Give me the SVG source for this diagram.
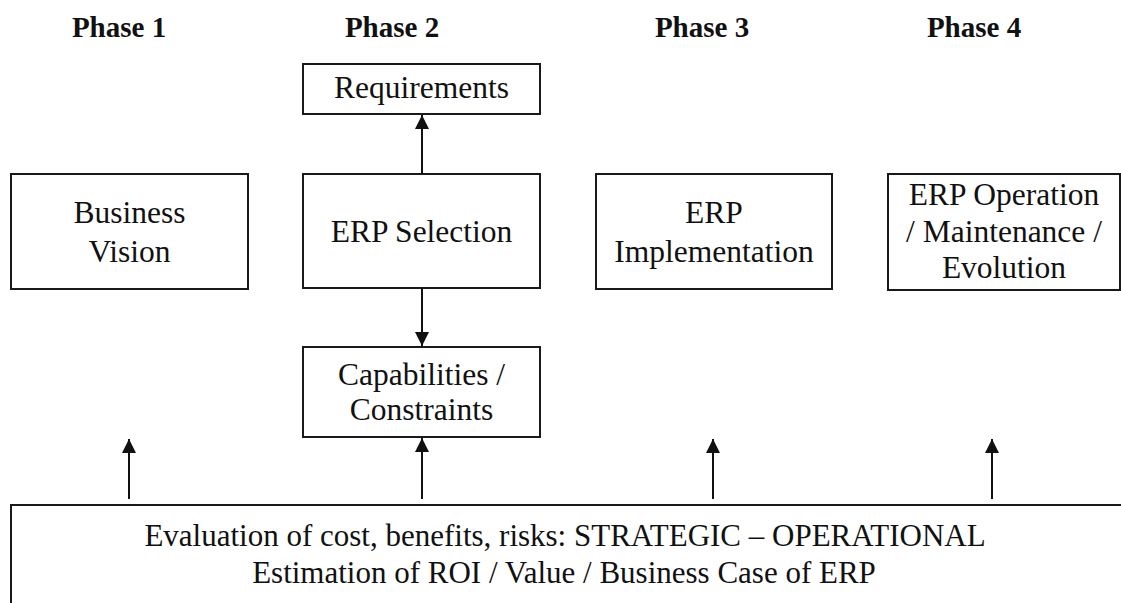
<svg xmlns="http://www.w3.org/2000/svg" width="1121" height="603" viewBox="0 0 1121 603">
  <style>
    .box { fill: #ffffff; stroke: #1a1a1a; stroke-width: 2; }
    .lbl { font-family: "Liberation Serif", "Times New Roman", serif; font-size: 31.5px; fill: #111111; text-anchor: middle; }
    .wide { font-size: 31px; }
    .hdr { font-family: "Liberation Serif", "Times New Roman", serif; font-size: 29px; font-weight: bold; fill: #111111; text-anchor: middle; }
    .conn { stroke: #111111; stroke-width: 2; fill: none; marker-end: url(#arrow); }
  </style>
  <defs>
    <marker id="arrow" viewBox="0 0 14 14" refX="14" refY="7" markerWidth="14" markerHeight="14" markerUnits="userSpaceOnUse" orient="auto">
      <path d="M0,0 L14,7 L0,14 Z" fill="#111111"/>
    </marker>
  </defs>
  <rect width="1121" height="603" fill="#ffffff"/>

  <!-- phase headers -->
  <g id="headers">
    <text class="hdr" x="119" y="37">Phase 1</text>
    <text class="hdr" x="392" y="37">Phase 2</text>
    <text class="hdr" x="702" y="37">Phase 3</text>
    <text class="hdr" x="974" y="37">Phase 4</text>
  </g>

  <g id="requirements">
    <rect class="box" x="303" y="64" width="237" height="50"/>
    <text class="lbl" x="421.5" y="98">Requirements</text>
  </g>

  <g id="business-vision">
    <rect class="box" x="11" y="174" width="237" height="115"/>
    <text class="lbl" x="129.5" y="223">Business</text>
    <text class="lbl" x="129.5" y="262">Vision</text>
  </g>

  <g id="erp-selection">
    <rect class="box" x="303" y="174" width="237" height="114"/>
    <text class="lbl" x="421.5" y="242">ERP Selection</text>
  </g>

  <g id="erp-implementation">
    <rect class="box" x="596" y="174" width="236" height="115"/>
    <text class="lbl" x="714" y="223">ERP</text>
    <text class="lbl" x="714" y="262">Implementation</text>
  </g>

  <g id="erp-operation">
    <rect class="box" x="888" y="174" width="232" height="116"/>
    <text class="lbl" x="1004" y="205">ERP Operation</text>
    <text class="lbl" x="1004" y="242">/ Maintenance /</text>
    <text class="lbl" x="1004" y="278">Evolution</text>
  </g>

  <g id="capabilities">
    <rect class="box" x="303" y="347" width="237" height="90"/>
    <text class="lbl" x="421.5" y="385">Capabilities /</text>
    <text class="lbl" x="421.5" y="420">Constraints</text>
  </g>

  <g id="evaluation">
    <rect class="box" x="11" y="505" width="1130" height="120"/>
    <text class="lbl wide" x="565" y="546">Evaluation of cost, benefits, risks: STRATEGIC – OPERATIONAL</text>
    <text class="lbl wide" x="564" y="583">Estimation of ROI / Value / Business Case of ERP</text>
  </g>

  <g id="connectors">
    <line class="conn" x1="422" y1="174" x2="422" y2="115"/>
    <line class="conn" x1="422" y1="288" x2="422" y2="346"/>
    <line class="conn" x1="129" y1="499" x2="129" y2="439"/>
    <line class="conn" x1="422" y1="499" x2="422" y2="438"/>
    <line class="conn" x1="713" y1="499" x2="713" y2="439"/>
    <line class="conn" x1="992" y1="499" x2="992" y2="439"/>
  </g>
</svg>
